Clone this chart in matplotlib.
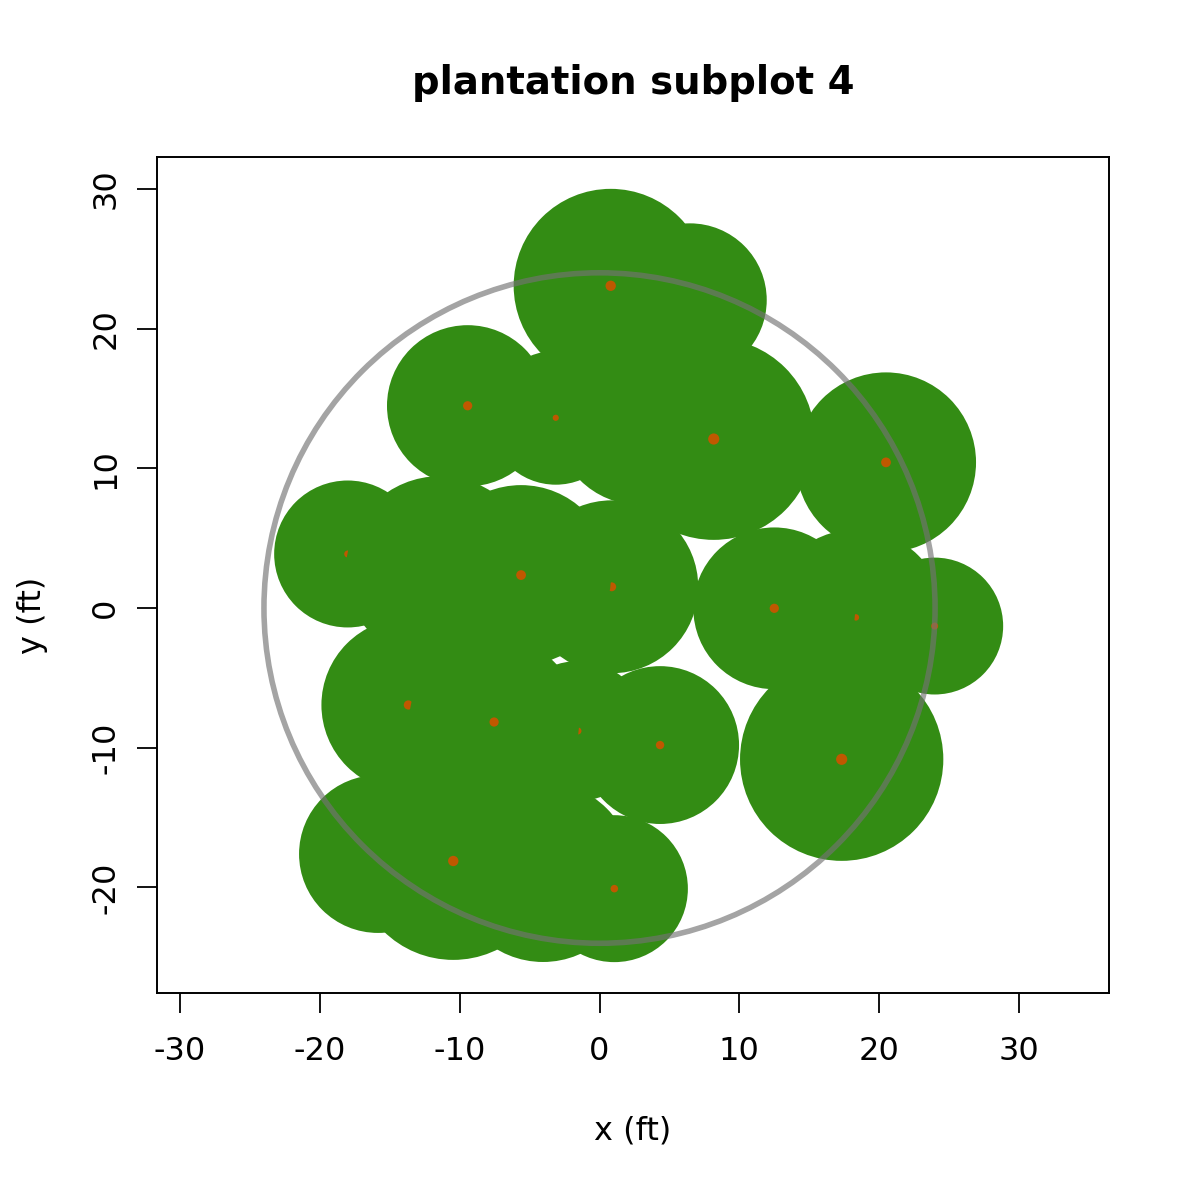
import matplotlib
matplotlib.use("Agg")
import matplotlib.pyplot as plt
from matplotlib.patches import Circle

# Trees in drawing order: stem x, stem y (ft), crown radius (ft), stem radius (ft)
tree_x = [6.47, 0.80, 2.90, -3.13, -9.43, 8.17, 20.49, -18.01, -11.41, 0.87, -5.61,
          18.34, 12.50, 23.97, 17.32, -13.67, -1.54, -7.54, 4.33, -15.84, -4.04, -10.46, 1.06]
tree_y = [22.05, 23.07, 13.46, 13.62, 14.48, 12.10, 10.43, 3.87, 2.72, 1.52, 2.36,
          -0.67, -0.02, -1.29, -10.83, -6.94, -8.80, -8.16, -9.81, -17.61, -18.90, -18.11, -20.09]
crown_r = [5.49, 6.94, 6.08, 4.79, 5.77, 7.22, 6.44, 5.26, 6.72, 6.19, 6.44,
           6.29, 5.79, 4.90, 7.27, 6.22, 5.00, 6.08, 5.65, 5.65, 6.44, 7.08, 5.26]
stem_r = [0.34, 0.37, 0.34, 0.22, 0.33, 0.40, 0.35, 0.25, 0.34, 0.32, 0.35,
          0.23, 0.33, 0.25, 0.40, 0.33, 0.25, 0.33, 0.30, 0.34, 0.34, 0.37, 0.27]

plot_radius = 24.0
x_ticks = [-30, -20, -10, 0, 10, 20, 30]
y_ticks = [-20, -10, 0, 10, 20, 30]
title = "plantation subplot 4"
x_label = "x (ft)"
y_label = "y (ft)"

GREEN = "#338C14"
ORANGE = "#BF5800"

W = H = 1190
fig = plt.figure(figsize=(W / 100, H / 100), dpi=100)
ax = fig.add_axes([157 / W, 1 - 993 / H, 952 / W, 836 / H])
ax.set_xlim(-31.65, 36.44)
ax.set_ylim(-27.56, 32.29)

z = 1
for x, y, cr, sr in zip(tree_x, tree_y, crown_r, stem_r):
    ax.add_patch(Circle((x, y), cr, facecolor=GREEN, edgecolor="none", zorder=z))
    z += 1
    ax.add_patch(Circle((x, y), sr, facecolor=ORANGE, edgecolor="none", zorder=z))
    z += 1

ax.add_patch(Circle((0, 0), plot_radius, fill=False, edgecolor=(0.45, 0.45, 0.45),
                    alpha=0.65, linewidth=4.0, zorder=z + 1))

ax.set_xticks(x_ticks)
ax.set_yticks(y_ticks)
ax.set_xticklabels([str(t) for t in x_ticks])
ax.set_yticklabels([str(t) for t in y_ticks], rotation=90, va="center")
ax.tick_params(axis="both", direction="out", length=14.2, width=1.3, labelsize=23,
               color="black", labelcolor="black")
ax.tick_params(axis="x", pad=17.0)
ax.tick_params(axis="y", pad=11.5)
for s in ax.spines.values():
    s.set_linewidth(1.4)
    s.set_color("black")

fig.text(633 / W, 1 - 94 / H, title, ha="center", va="baseline",
         fontsize=27.8, fontweight="bold")
fig.text(633 / W, 1 - 1139 / H, x_label, ha="center", va="baseline", fontsize=23)
fig.text(32 / W, 575 / H, y_label, ha="center", va="center", rotation=90, fontsize=23)

fig.savefig("out.png", dpi=100)
